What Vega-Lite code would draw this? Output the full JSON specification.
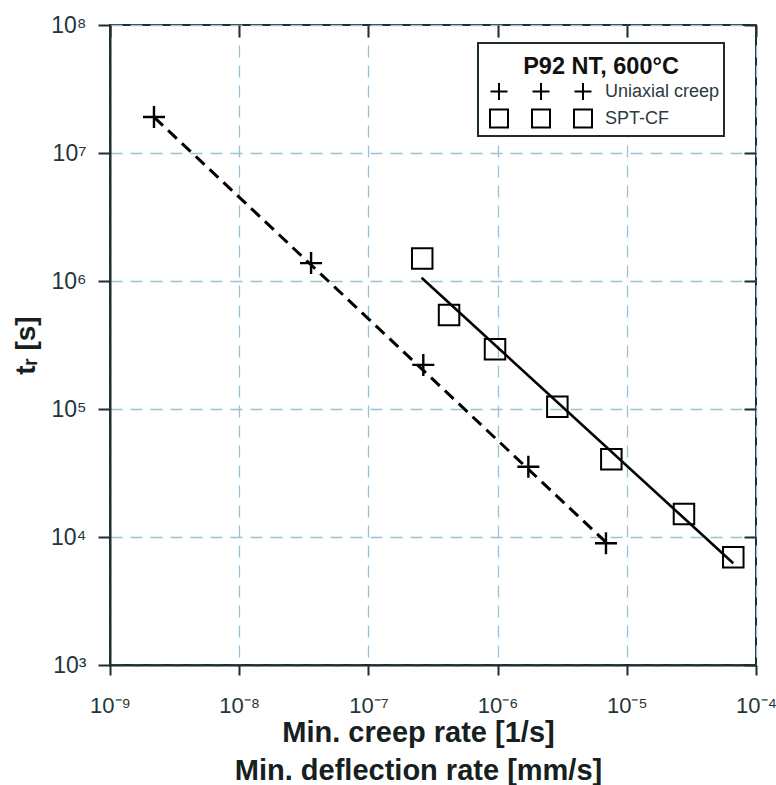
{
  "$schema": "https://vega.github.io/schema/vega-lite/v6.json",
  "width": 646,
  "height": 640,
  "autosize": {"type": "none"},
  "padding": {"left": 110, "top": 25, "right": 20, "bottom": 120},
  "background": "white",
  "config": {
    "font": "Liberation Sans",
    "view": {"stroke": "#1f2d31", "strokeWidth": 2},
    "legend": {"strokeWidth": 2}
  },
  "datasets": {
    "measured": [
      {"series": "Uniaxial creep", "rate": 2.19e-9, "tr": 1.91e7},
      {"series": "Uniaxial creep", "rate": 3.60e-8, "tr": 1.38e6},
      {"series": "Uniaxial creep", "rate": 2.66e-7, "tr": 2.21e5},
      {"series": "Uniaxial creep", "rate": 1.73e-6, "tr": 3.54e4},
      {"series": "Uniaxial creep", "rate": 6.90e-6, "tr": 8.93e3},
      {"series": "SPT-CF", "rate": 2.61e-7, "tr": 1.50e6},
      {"series": "SPT-CF", "rate": 4.21e-7, "tr": 5.42e5},
      {"series": "SPT-CF", "rate": 9.55e-7, "tr": 2.93e5},
      {"series": "SPT-CF", "rate": 2.90e-6, "tr": 1.04e5},
      {"series": "SPT-CF", "rate": 7.59e-6, "tr": 4.05e4},
      {"series": "SPT-CF", "rate": 2.77e-5, "tr": 1.51e4},
      {"series": "SPT-CF", "rate": 6.67e-5, "tr": 6.94e3}
    ],
    "fits": [
      {"series": "Uniaxial creep", "rate": 2.2e-9, "tr": 1.9e7},
      {"series": "Uniaxial creep", "rate": 6.9e-6, "tr": 9.1e3},
      {"series": "SPT-CF", "rate": 2.58e-7, "tr": 1.06e6},
      {"series": "SPT-CF", "rate": 6.67e-5, "tr": 6.23e3}
    ]
  },
  "resolve": {"axis": {"x": "independent", "y": "independent"}},
  "layer": [
    {
      "data": {"name": "fits"},
      "transform": [{"filter": "datum.series === 'Uniaxial creep'"}],
      "mark": {"type": "line", "color": "black", "strokeWidth": 3, "strokeDash": [12, 7]},
      "encoding": {
        "x": {
          "field": "rate", "type": "quantitative",
          "scale": {"type": "log", "domain": [1e-9, 1e-4], "nice": false},
          "axis": {
            "orient": "bottom",
            "values": [1e-9, 1e-8, 1e-7, 1e-6, 1e-5, 1e-4],
            "labelExpr": "['10⁻⁹','10⁻⁸','10⁻⁷','10⁻⁶','10⁻⁵','10⁻⁴'][round(log(datum.value)/LN10)+9]",
            "grid": true, "gridColor": "#98c1d6", "gridDash": [12, 8], "gridWidth": 1.3,
            "domainColor": "#1f2d31", "domainWidth": 2,
            "tickColor": "#1f2d31", "tickWidth": 2, "tickSize": 10,
            "labelFontSize": 22, "labelColor": "#23353a", "labelPadding": 20,
            "labelFlush": false, "labelOverlap": false,
            "title": ["Min. creep rate [1/s]", "Min. deflection rate [mm/s]"],
            "titleFontSize": 29, "titleFontWeight": "bold", "titleColor": "#15201f",
            "titleLineHeight": 38, "titlePadding": 2, "titleX": 308
          }
        },
        "y": {
          "field": "tr", "type": "quantitative",
          "scale": {"type": "log", "domain": [1e3, 1e8], "nice": false},
          "axis": {
            "orient": "left",
            "values": [1e3, 1e4, 1e5, 1e6, 1e7, 1e8],
            "labelExpr": "['10³','10⁴','10⁵','10⁶','10⁷','10⁸'][round(log(datum.value)/LN10)-3]",
            "grid": true, "gridColor": "#98c1d6", "gridDash": [12, 8], "gridWidth": 1.3,
            "domainColor": "#1f2d31", "domainWidth": 2,
            "tickColor": "#1f2d31", "tickWidth": 2, "tickSize": 12,
            "labelFontSize": 23, "labelColor": "#23353a", "labelPadding": 12,
            "labelFlush": false, "labelOverlap": false,
            "title": "tᵣ [s]",
            "titleFontSize": 28, "titleFontWeight": "bold", "titleColor": "#15201f",
            "titlePadding": 10
          }
        }
      }
    },
    {
      "data": {"name": "fits"},
      "transform": [{"filter": "datum.series === 'SPT-CF'"}],
      "mark": {"type": "line", "color": "black", "strokeWidth": 2.6},
      "encoding": {
        "x": {"field": "rate", "type": "quantitative", "axis": null},
        "y": {"field": "tr", "type": "quantitative", "axis": null}
      }
    },
    {
      "data": {"name": "measured"},
      "transform": [{"filter": "datum.series === 'Uniaxial creep'"}],
      "mark": {"type": "point", "shape": "M-1,0H1M0,-1V1", "filled": false, "color": "black", "strokeWidth": 2.4, "size": 484, "opacity": 1},
      "encoding": {
        "x": {
          "field": "rate", "type": "quantitative",
          "axis": {
            "orient": "top", "values": [1e-9, 1e-8, 1e-7, 1e-6, 1e-5, 1e-4],
            "labels": false, "grid": false, "domain": false, "title": null,
            "tickColor": "#1f2d31", "tickWidth": 2, "tickSize": -12
          }
        },
        "y": {
          "field": "tr", "type": "quantitative",
          "axis": {
            "orient": "right", "values": [1e3, 1e4, 1e5, 1e6, 1e7, 1e8],
            "labels": false, "grid": false, "domain": false, "title": null,
            "tickColor": "#1f2d31", "tickWidth": 2, "tickSize": -12
          }
        }
      }
    },
    {
      "data": {"name": "measured"},
      "transform": [{"filter": "datum.series === 'SPT-CF'"}],
      "mark": {"type": "point", "shape": "square", "filled": false, "color": "black", "strokeWidth": 2, "size": 420, "opacity": 1},
      "encoding": {
        "x": {"field": "rate", "type": "quantitative", "axis": null},
        "y": {"field": "tr", "type": "quantitative", "axis": null}
      }
    },
    {
      "data": {"name": "measured"},
      "transform": [{"filter": "datum.tr < 0"}],
      "mark": {"type": "point", "filled": false, "color": "black", "strokeWidth": 2, "opacity": 1},
      "encoding": {
        "x": {"field": "rate", "type": "quantitative", "axis": null},
        "y": {"field": "tr", "type": "quantitative", "axis": null},
        "shape": {
          "field": "series", "type": "nominal",
          "scale": {
            "domain": ["Uniaxial creep", "SPT-CF"],
            "range": [
              "M-1.7,0H1.7M0,-1.7V1.7M6.7,0H10.1M8.4,-1.7V1.7M15.1,0H18.5M16.8,-1.7V1.7",
              "M-1.8,-1.8H1.8V1.8H-1.8ZM6.6,-1.8H10.2V1.8H6.6ZM15,-1.8H18.6V1.8H15Z"
            ]
          },
          "legend": {
            "orient": "none", "legendX": 368, "legendY": 18,
            "title": "P92 NT, 600°C",
            "titleFontSize": 23.5, "titleFontWeight": "bold", "titleColor": "#111111",
            "titleAnchor": "middle", "titleBaseline": "line-top", "titleLineHeight": 40,
            "titlePadding": 12,
            "padding": 4,
            "strokeColor": "#1f2d31", "fillColor": "white",
            "symbolSize": 100, "symbolStrokeWidth": 2, "symbolStrokeColor": "black",
            "symbolFillColor": "transparent", "symbolOpacity": 1, "symbolOffset": 8,
            "labelFontSize": 18, "labelOffset": 97, "labelColor": "#2a3a40",
            "rowPadding": 1
          }
        }
      }
    }
  ]
}
